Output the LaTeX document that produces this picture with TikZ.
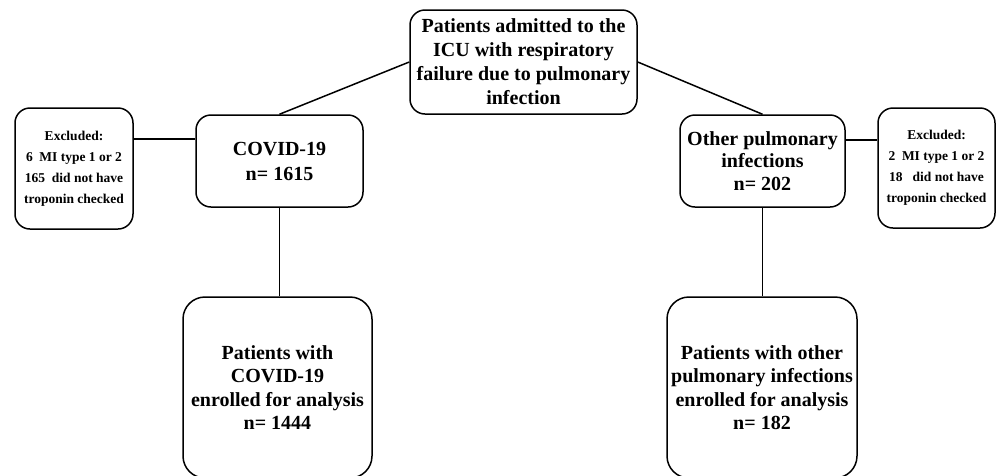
\documentclass[tikz,border=0pt]{standalone}
\usepackage{fontspec}
\setmainfont{Liberation Serif}
\begin{document}
\begin{tikzpicture}[x=1pt,y=-1pt,
  box/.style={draw=black,line width=1.5pt,rounded corners=15pt,align=center,inner sep=0pt,font=\bfseries},
  bigtext/.style={font=\bfseries\fontsize{20}{24}\selectfont},
  smalltext/.style={font=\bfseries\fontsize{13.5}{21}\selectfont},
  link/.style={draw=black,line width=1.5pt}]
\useasboundingbox (0,0) rectangle (997,475);
\begin{scope}
\clip (0,0) rectangle (997,475);
\node[box,bigtext,minimum width=227pt,minimum height=104pt] (top) at (523.5,62)
  {Patients admitted to the\\ICU with respiratory\\failure due to pulmonary\\infection};
\node[box,font=\bfseries\fontsize{20}{25}\selectfont,minimum width=167pt,minimum height=92pt] (covid) at (279.5,161)
  {COVID-19\\n= 1615};
\node[box,smalltext,minimum width=118pt,minimum height=121pt] (exclL) at (74,168.5)
  {Excluded:\\6\ \ MI type 1 or 2\\165\ \ did not have\\troponin checked};
\node[box,font=\bfseries\fontsize{20}{22.5}\selectfont,minimum width=165pt,minimum height=92pt] (other) at (762.5,161)
  {Other pulmonary\\infections\\n= 202};
\node[box,smalltext,minimum width=117pt,minimum height=120pt] (exclR) at (936.5,168)
  {Excluded:\\2\ \ MI type 1 or 2\\18\ \ \ did not have\\troponin checked};
\node[box,font=\bfseries\fontsize{20}{23.5}\selectfont,rounded corners=22pt,minimum width=189pt,minimum height=181pt] (enrL) at (277.5,387.5)
  {Patients with\\COVID-19\\enrolled for analysis\\n= 1444};
\node[box,font=\bfseries\fontsize{20}{23.5}\selectfont,rounded corners=22pt,minimum width=190pt,minimum height=181pt] (enrR) at (762,387.5)
  {Patients with other\\pulmonary infections\\enrolled for analysis\\n= 182};
\coordinate (hl) at (0,139);
\coordinate (hr) at (0,140);
\draw[link] (top.west) -- (covid.north);
\draw[link] (top.east) -- (other.north);
\draw[link] (exclL.east |- hl) -- (covid.west |- hl);
\draw[link] (other.east |- hr) -- (exclR.west |- hr);
\draw[link] (covid.south) -- (enrL.north -| covid.south);
\draw[link] (other.south) -- (enrR.north -| other.south);
\end{scope}
\end{tikzpicture}
\end{document}
